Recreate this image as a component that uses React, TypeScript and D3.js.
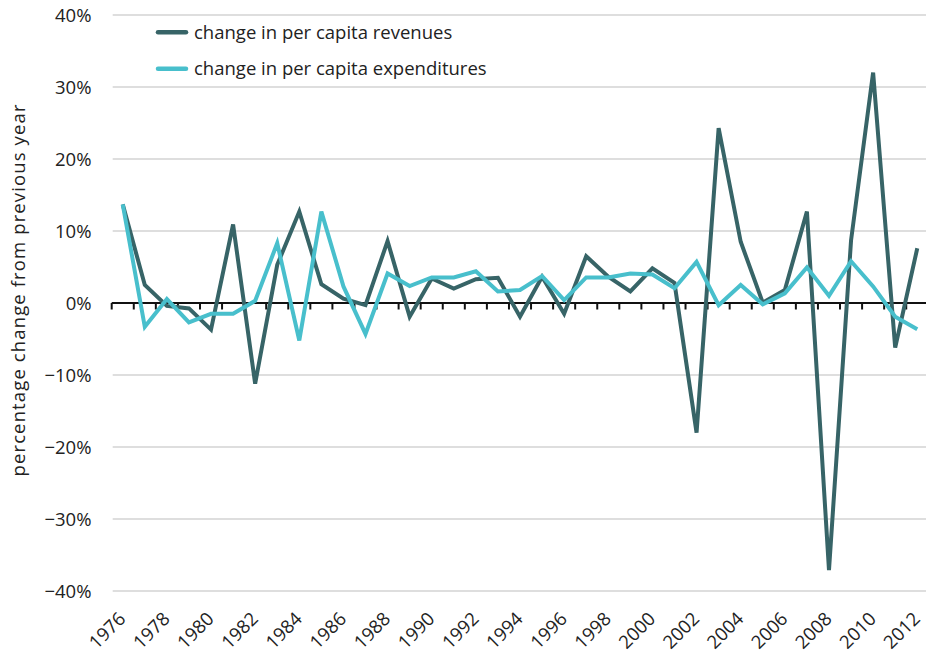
import React from "react";
import * as d3 from "d3";

const years: number[] = d3.range(1976, 2013);
const revenues: number[] = [13.7, 2.5, -0.4, -0.75, -3.7, 10.9, -11.2, 5.3, 12.7, 2.6, 0.6, -0.3, 8.6, -1.9, 3.4, 2.0, 3.3, 3.5, -1.9, 3.65, -1.5, 6.5, 3.65, 1.6, 4.8, 2.8, -18.0, 24.3, 8.5, 0.05, 1.8, 12.7, -37.1, 8.7, 32.0, -6.2, 7.6];
const expenditures: number[] = [13.7, -3.3, 0.55, -2.7, -1.5, -1.5, 0.3, 8.3, -5.2, 12.7, 2.3, -4.3, 4.1, 2.35, 3.55, 3.55, 4.4, 1.6, 1.8, 3.75, 0.4, 3.55, 3.55, 4.1, 3.95, 2.05, 5.7, -0.3, 2.5, -0.2, 1.35, 4.95, 1.0, 5.8, 2.3, -1.9, -3.65];
const yTicks: number[] = [-40, -30, -20, -10, 0, 10, 20, 30, 40];
const xLabelYears: number[] = years.filter((y) => y % 2 === 0);
const seriesNames: string[] = ["change in per capita revenues", "change in per capita expenditures"];
const colors: string[] = ["#376467", "#48bfcc"];
const yTitle = "percentage change from previous year";

const W = 926;
const H = 653;
const FONT = "'Open Sans', sans-serif";

export default function App() {
  const x = d3.scaleBand<number>().domain(years).range([111.7, 928.3]);
  const cx = (yr: number) => (x(yr) as number) + x.bandwidth() / 2;
  const y = d3.scaleLinear().domain([-40, 40]).range([591, 15]);
  const line = d3
    .line<number>()
    .x((_, i) => cx(years[i]))
    .y((v) => y(v));
  const boundaries = years.map((yr) => x(yr) as number).concat([928.3]);

  return (
    <svg
      width={W}
      height={H}
      style={{ position: "absolute", left: 0, top: 0, background: "#fff" }}
      fontFamily={FONT}
    >
      <rect width={W} height={H} fill="#fff" />
      {yTicks.map((t) =>
        t === 0 ? null : (
          <line key={t} x1={112.7} x2={W} y1={y(t)} y2={y(t)} stroke="#d3d3d3" strokeWidth={1.5} />
        )
      )}
      {yTicks.map((t) => (
        <text key={"l" + t} x={91.5} y={y(t)} dy="0.36em" textAnchor="end" fontSize={18.5} fill="#222">
          {(t < 0 ? "\u2212" + Math.abs(t) : String(t)) + "%"}
        </text>
      ))}
      <text
        transform={`translate(24.5, 290.5) rotate(-90)`}
        textAnchor="middle"
        fontSize={18.5}
        fill="#222"
        textLength={372}
        lengthAdjust="spacing"
      >
        {yTitle}
      </text>
      <line x1={111.7} x2={W} y1={y(0)} y2={y(0)} stroke="#111" strokeWidth={2} />
      {boundaries.map((b, i) => (
        <line key={"t" + i} x1={b} x2={b} y1={y(0)} y2={y(0) + 6.5} stroke="#111" strokeWidth={2} />
      ))}
      <path d={line(revenues) || ""} fill="none" stroke={colors[0]} strokeWidth={4} strokeLinejoin="miter" />
      <path d={line(expenditures) || ""} fill="none" stroke={colors[1]} strokeWidth={4} strokeLinejoin="miter" />
      {xLabelYears.map((yr) => (
        <text
          key={"x" + yr}
          transform={`translate(${cx(yr) + 4}, ${620}) rotate(-45)`}
          textAnchor="end"
          fontSize={18.5}
          fill="#222"
        >
          {yr}
        </text>
      ))}
      {seriesNames.map((name, i) => (
        <g key={name} transform={`translate(0, ${32.3 + i * 36.5})`}>
          <line x1={158} x2={186} y1={0} y2={0} stroke={colors[i]} strokeWidth={4.5} strokeLinecap="round" />
          <text x={194} y={0} dy="0.36em" fontSize={18.5} fill="#222">
            {name}
          </text>
        </g>
      ))}
    </svg>
  );
}
